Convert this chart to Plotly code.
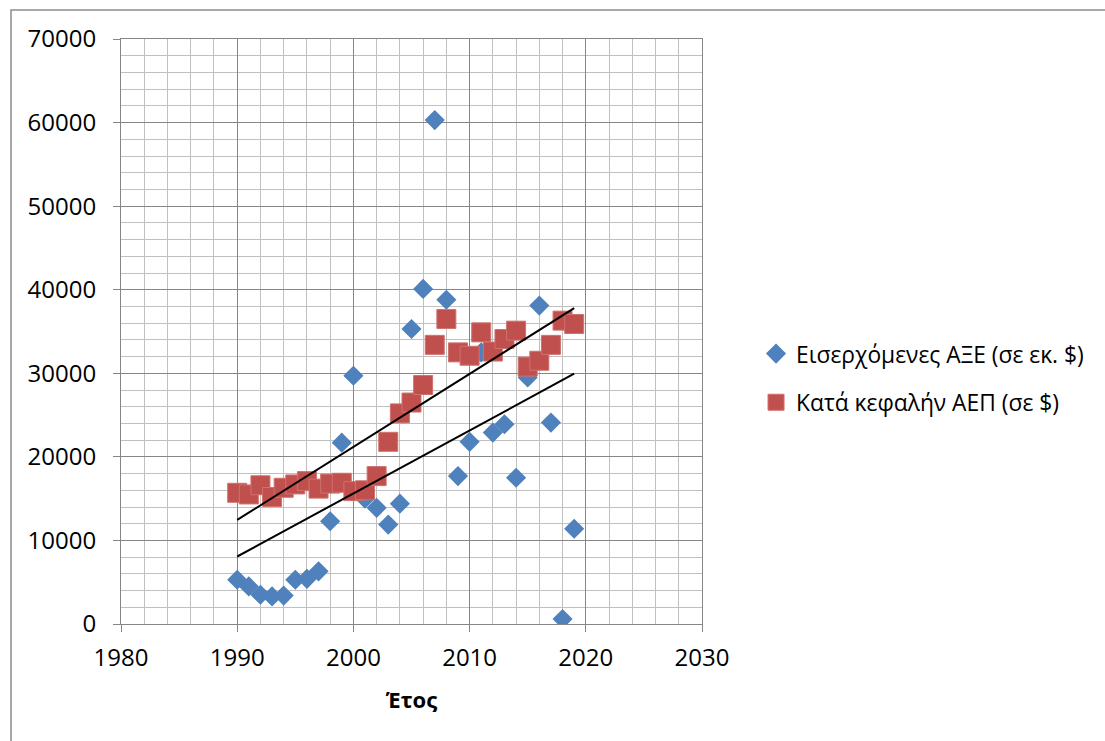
import numpy as np
import plotly.graph_objects as go

# Annual data, 1990-2019
years = list(range(1990, 2020))
fdi_inflows = [5300, 4500, 3500, 3300, 3400, 5300, 5400, 6300, 12300, 21700,
               29700, 15000, 13900, 11900, 14400, 35300, 40100, 60300, 38800, 17700,
               21800, 32500, 22900, 23900, 17500, 29500, 38100, 24100, 600, 11400]
gdp_per_capita = [15700, 15500, 16600, 15200, 16300, 16700, 17100, 16200, 16800, 16900,
                  15900, 16000, 17700, 21800, 25200, 26500, 28600, 33400, 36500, 32500,
                  32100, 34900, 32600, 34100, 35100, 30800, 31500, 33400, 36300, 35900]

name_fdi = "Εισερχόμενες ΑΞΕ (σε εκ. $)"
name_gdp = "Κατά κεφαλήν ΑΕΠ (σε $)"
x_title = "Έτος"

x_ticks = [1980, 1990, 2000, 2010, 2020, 2030]
y_ticks = [0, 10000, 20000, 30000, 40000, 50000, 60000, 70000]

BLUE = "#4F81BD"
RED = "#C0504D"
FONT = "Open Sans"

fig = go.Figure()

fig.add_trace(go.Scatter(
    x=years, y=fdi_inflows, mode="markers", name=name_fdi, legendgroup="fdi",
    marker=dict(symbol="diamond", size=15.5, color=BLUE, line=dict(width=0)),
))
fig.add_trace(go.Scatter(
    x=years, y=gdp_per_capita, mode="markers", name=name_gdp, legendgroup="gdp",
    marker=dict(symbol="square", size=19, color=RED,
                line=dict(width=1, color="#D0716E")),
))

# Linear least-squares trend lines for both series
for series in (gdp_per_capita, fdi_inflows):
    slope, intercept = np.polyfit(years, series, 1)
    xs = [years[0], years[-1]]
    fig.add_trace(go.Scatter(
        x=xs, y=[slope * v + intercept for v in xs], mode="lines",
        line=dict(color="black", width=2), showlegend=False, hoverinfo="skip",
    ))

# Outer chart frame
fig.add_shape(type="rect", xref="paper", yref="paper",
              x0=(11 - 121) / 581, x1=1.9, y0=-0.5, y1=(624 - 10) / 585,
              line=dict(color="#8C8C8C", width=1.5), fillcolor="rgba(0,0,0,0)",
              layer="below")

fig.update_layout(
    width=1105, height=741,
    margin=dict(l=121, r=403, t=39, b=117),
    paper_bgcolor="white", plot_bgcolor="white",
    font=dict(family=FONT, size=20, color="black"),
    showlegend=True,
    legend=dict(x=1.093, y=0.42, xanchor="left", yanchor="middle",
                font=dict(family=FONT, size=22.8, color="black"),
                itemsizing="trace", traceorder="grouped", tracegroupgap=16,
                itemwidth=30, bgcolor="rgba(0,0,0,0)"),
    xaxis=dict(
        range=[1980, 2030], tickvals=x_ticks, ticks="outside", ticklen=7,
        tickcolor="#868686", tickwidth=1, tickformat="d",
        tickfont=dict(family=FONT, size=24),
        ticklabelstandoff=5,
        showgrid=True, gridcolor="#868686", gridwidth=1,
        minor=dict(dtick=2, showgrid=True, gridcolor="#C0C0C0", gridwidth=1),
        showline=True, linecolor="#868686", linewidth=1, mirror=True,
        zeroline=False,
        title=dict(text="<b>" + x_title + "</b>", standoff=20,
                   font=dict(family=FONT, size=22)),
    ),
    yaxis=dict(
        range=[0, 70000], tickvals=y_ticks, ticks="outside", ticklen=7,
        tickcolor="#868686", tickwidth=1, tickformat="d",
        tickfont=dict(family=FONT, size=24),
        ticklabelstandoff=12,
        showgrid=True, gridcolor="#868686", gridwidth=1,
        minor=dict(dtick=2000, showgrid=True, gridcolor="#C0C0C0", gridwidth=1),
        showline=True, linecolor="#868686", linewidth=1, mirror=True,
        zeroline=False,
    ),
)

fig.write_html("out.html")
